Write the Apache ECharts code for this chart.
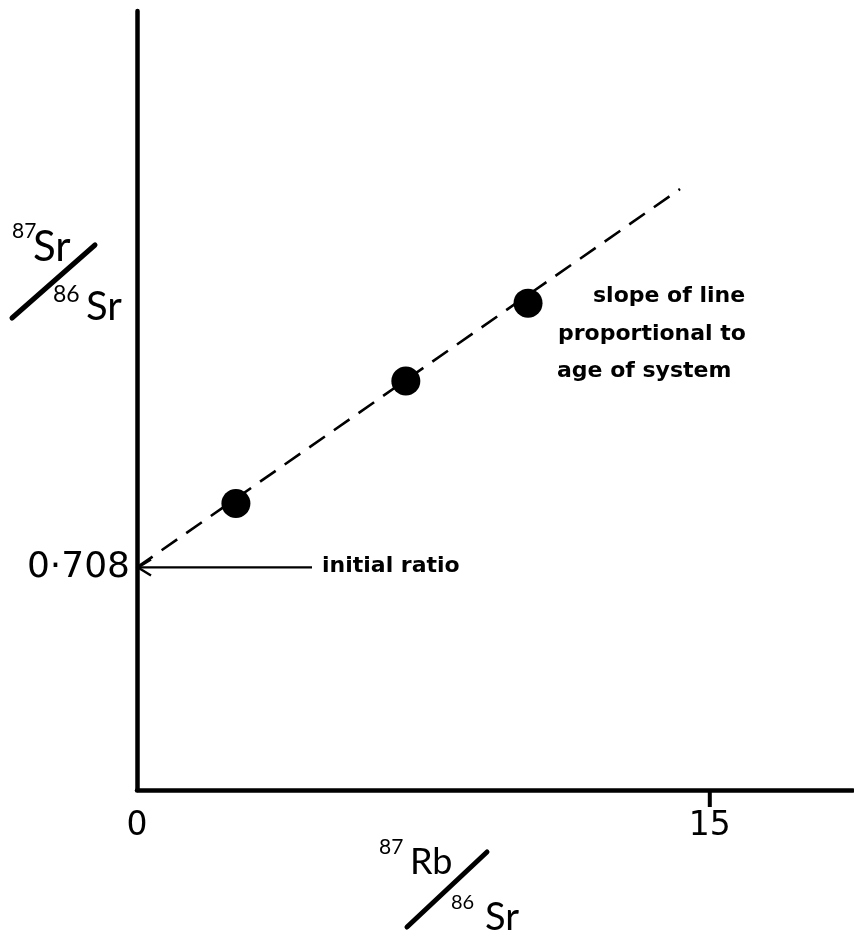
<!DOCTYPE html>
<html>
<head>
<meta charset="utf-8">
<script src="https://cdn.jsdelivr.net/npm/echarts@6/dist/echarts.min.js"></script>
<style>html,body{margin:0;padding:0;background:#fff;}#c{width:854px;height:938px;}</style>
</head>
<body>
<div id="c"></div>
<script>
// Data
var rbSr = [2.59, 7.04, 10.24];          // 87Rb/86Sr
var srSr = [0.7103, 0.7147, 0.7175];     // 87Sr/86Sr
var isochronX = [0, 14.22];
var isochronY = [0.708, 0.7216];
var xTicks = [0, 15];
var xTickMarks = [15];
var yTicks = [0.708];
var initialRatio = 0.708;

var points = rbSr.map(function (x, i) { return [x, srSr[i]]; });
var line = isochronX.map(function (x, i) { return [x, isochronY[i]]; });

var chart = echarts.init(document.getElementById('c'));
var FONT = 'Lato';
var NFONT = 'DejaVu Sans';
chart.setOption({
  animation: false,
  backgroundColor: '#fff',
  grid: { left: 137, top: 11, width: 716, height: 779, containLabel: false },
  xAxis: {
    type: 'value', min: 0, max: 18.75, interval: 15,
    axisLine: { onZero: false, lineStyle: { color: '#000', width: 4.5 } },
    axisTick: { show: false },
    axisLabel: { customValues: xTicks, margin: 20, color: '#000', fontFamily: NFONT, fontSize: 33 },
    splitLine: { show: false }
  },
  yAxis: {
    type: 'value', min: 0.700, max: 0.728, interval: 0.008,
    axisLine: { onZero: false, lineStyle: { color: '#000', width: 4.5 } },
    axisTick: { show: false },
    axisLabel: { customValues: yTicks, margin: 7, color: '#000', fontFamily: NFONT, fontSize: 36,
      formatter: function (v) { return v.toFixed(3).replace('.', '\u00b7'); } },
    splitLine: { show: false }
  },
  series: [
    {
      type: 'line', data: line, symbol: 'none', silent: true,
      lineStyle: { color: '#000', width: 2.6, type: [19, 11] }
    },
    {
      type: 'scatter', data: points, symbol: 'circle', symbolSize: 29,
      itemStyle: { color: '#000', opacity: 1 }, z: 5
    }
  ]
});

var p0 = chart.convertToPixel('grid', [0, initialRatio]);
var ax = p0[0] + 1, ay = p0[1];
var txt = function (s, x, y, size, weight, fam) {
  var st = { text: s, x: x, y: y, fill: '#000', font: (weight || 'normal') + ' ' + size + 'px ' + (fam || FONT),
    textAlign: 'left', textVerticalAlign: 'middle' };
  return { type: 'text', style: st, z: 10 };
};
var g = [
  // arrow to initial ratio
  { type: 'line', shape: { x1: ax, y1: ay, x2: ax + 174, y2: ay }, style: { stroke: '#000', lineWidth: 2.2 } },
  { type: 'polyline', shape: { points: [[ax + 13, ay - 8], [ax, ay], [ax + 13, ay + 8]] },
    style: { stroke: '#000', lineWidth: 2.4, fill: null } },
  txt('initial ratio', 322, ay - 1, 22, 'bold', NFONT),
  // slope annotation
  txt('slope of line', 593, 296, 22, 'bold', NFONT),
  txt('proportional to', 558, 334, 22, 'bold', NFONT),
  txt('age of system', 557, 371, 22, 'bold', NFONT),
  // y axis title 87Sr / 86Sr
  txt('87', 12, 231, 21),
  txt('Sr', 33, 247, 42),
  { type: 'line', shape: { x1: 12, y1: 318, x2: 95, y2: 245 }, style: { stroke: '#000', lineWidth: 5, lineCap: 'round' } },
  txt('86', 53, 295, 23),
  txt('Sr', 86, 307, 40),
  // x axis title 87Rb / 86Sr
  txt('87', 379, 847, 21),
  txt('Rb', 410, 862, 36),
  { type: 'line', shape: { x1: 407, y1: 927, x2: 487, y2: 852 }, style: { stroke: '#000', lineWidth: 5, lineCap: 'round' } },
  txt('86', 451, 903, 20),
  txt('Sr', 485, 918, 38)
];
// downward tick marks on the x axis at scale positions
xTickMarks.forEach(function (v) {
  var p = chart.convertToPixel('grid', [v, 0.700]);
  g.push({ type: 'line', shape: { x1: p[0], y1: p[1], x2: p[0], y2: p[1] + 17 }, style: { stroke: '#000', lineWidth: 4 } });
});
chart.setOption({ graphic: g });
</script>
</body>
</html>
